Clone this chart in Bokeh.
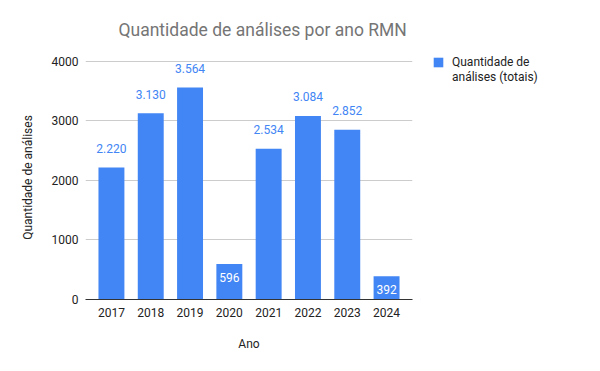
from bokeh.plotting import figure
from bokeh.layouts import row
from bokeh.models import ColumnDataSource, FactorRange, Range1d, Legend, LegendItem, FixedTicker
from bokeh.core.properties import value
from bokeh.embed import file_html
from bokeh.resources import INLINE

years = ["2017", "2018", "2019", "2020", "2021", "2022", "2023", "2024"]
counts = [2220, 3130, 3564, 596, 2534, 3084, 2852, 392]
y_ticks = [0, 1000, 2000, 3000, 4000]
y_max = 4100

title_text = "Quantidade de análises por ano RMN"
series_name_1 = "Quantidade de"
series_name_2 = "análises (totais)"

BLUE = "#4285F4"
FONT = "Roboto"
H = 360

labels = [f"{v:,}".replace(",", ".") for v in counts]
inside = [v < 1000 for v in counts]
label_colors = ["#ffffff" if i else BLUE for i in inside]
label_offsets = [13 if i else -19 for i in inside]

src = ColumnDataSource(dict(x=years, y=counts, lab=labels, col=label_colors, off=label_offsets))

p = figure(width=420, height=H, output_backend="svg", toolbar_location=None,
           x_range=FactorRange(factors=years, range_padding=0.04),
           y_range=Range1d(0, y_max),
           min_border_left=85, min_border_right=8, min_border_top=55, min_border_bottom=61)

p.title.text = title_text
p.title.text_font = FONT
p.title.text_font_size = "17.5px"
p.title.text_font_style = "normal"
p.title.text_color = "#757575"
p.title.align = "left"
p.title.offset = 33
p.title.standoff = 32

p.outline_line_color = None
p.background_fill_color = "white"

p.vbar(x="x", top="y", width=0.66, source=src, fill_color=BLUE, line_color=None)
p.text(x="x", y="y", text="lab", source=src, text_color="col", y_offset="off",
       text_align="center", text_baseline="middle",
       text_font=value(FONT), text_font_size="12px")

p.xaxis.axis_label = "Ano"
p.yaxis.axis_label = "Quantidade de análises"
for ax in (p.xaxis[0], p.yaxis[0]):
    ax.axis_label_text_font = FONT
    ax.axis_label_text_font_size = "12px"
    ax.axis_label_text_font_style = "normal"
    ax.axis_label_text_color = "#222222"
    ax.major_label_text_font = FONT
    ax.major_label_text_font_size = "12px"
    ax.major_label_text_color = "#222222"
    ax.major_tick_line_color = None
    ax.minor_tick_line_color = None
    ax.major_tick_out = 0
    ax.major_tick_in = 0

p.yaxis.ticker = FixedTicker(ticks=y_ticks)
p.yaxis.axis_line_color = None
p.yaxis.major_label_standoff = 7
p.yaxis.axis_label_standoff = 14
p.xaxis.axis_line_color = "#333333"
p.xaxis.major_label_standoff = 8
p.xaxis.axis_label_standoff = 17

p.xgrid.grid_line_color = None
p.ygrid.grid_line_color = "#cccccc"
p.ygrid.ticker = FixedTicker(ticks=y_ticks)

# legend panel (proxy glyphs lie outside the visible range; only their legend entries show)
p2 = figure(width=170, height=H, output_backend="svg", toolbar_location=None,
            x_range=Range1d(0, 1), y_range=Range1d(0, 1),
            x_axis_location=None, y_axis_location=None,
            min_border_left=0, min_border_right=0, min_border_top=0, min_border_bottom=0)
p2.outline_line_color = None
p2.grid.visible = False
leg_bar = p2.vbar(x=[-10], top=[-10], width=1, fill_color=BLUE, line_color=None)
leg_blank = p2.rect(x=[-10], y=[-10], width=1, height=1, fill_alpha=0, line_alpha=0)

legend = Legend(items=[LegendItem(label=series_name_1, renderers=[leg_bar]),
                       LegendItem(label=series_name_2, renderers=[leg_blank])],
                location=(12, 215), orientation="vertical",
                glyph_width=12, glyph_height=12, label_height=12, spacing=1,
                label_standoff=8, padding=0, margin=0,
                border_line_color=None, background_fill_alpha=0,
                label_text_font=FONT, label_text_font_size="12px", label_text_color="#222222")
p2.add_layout(legend, "center")

layout = row(p, p2, spacing=0)
open("out.html", "w").write(file_html(layout, INLINE))
